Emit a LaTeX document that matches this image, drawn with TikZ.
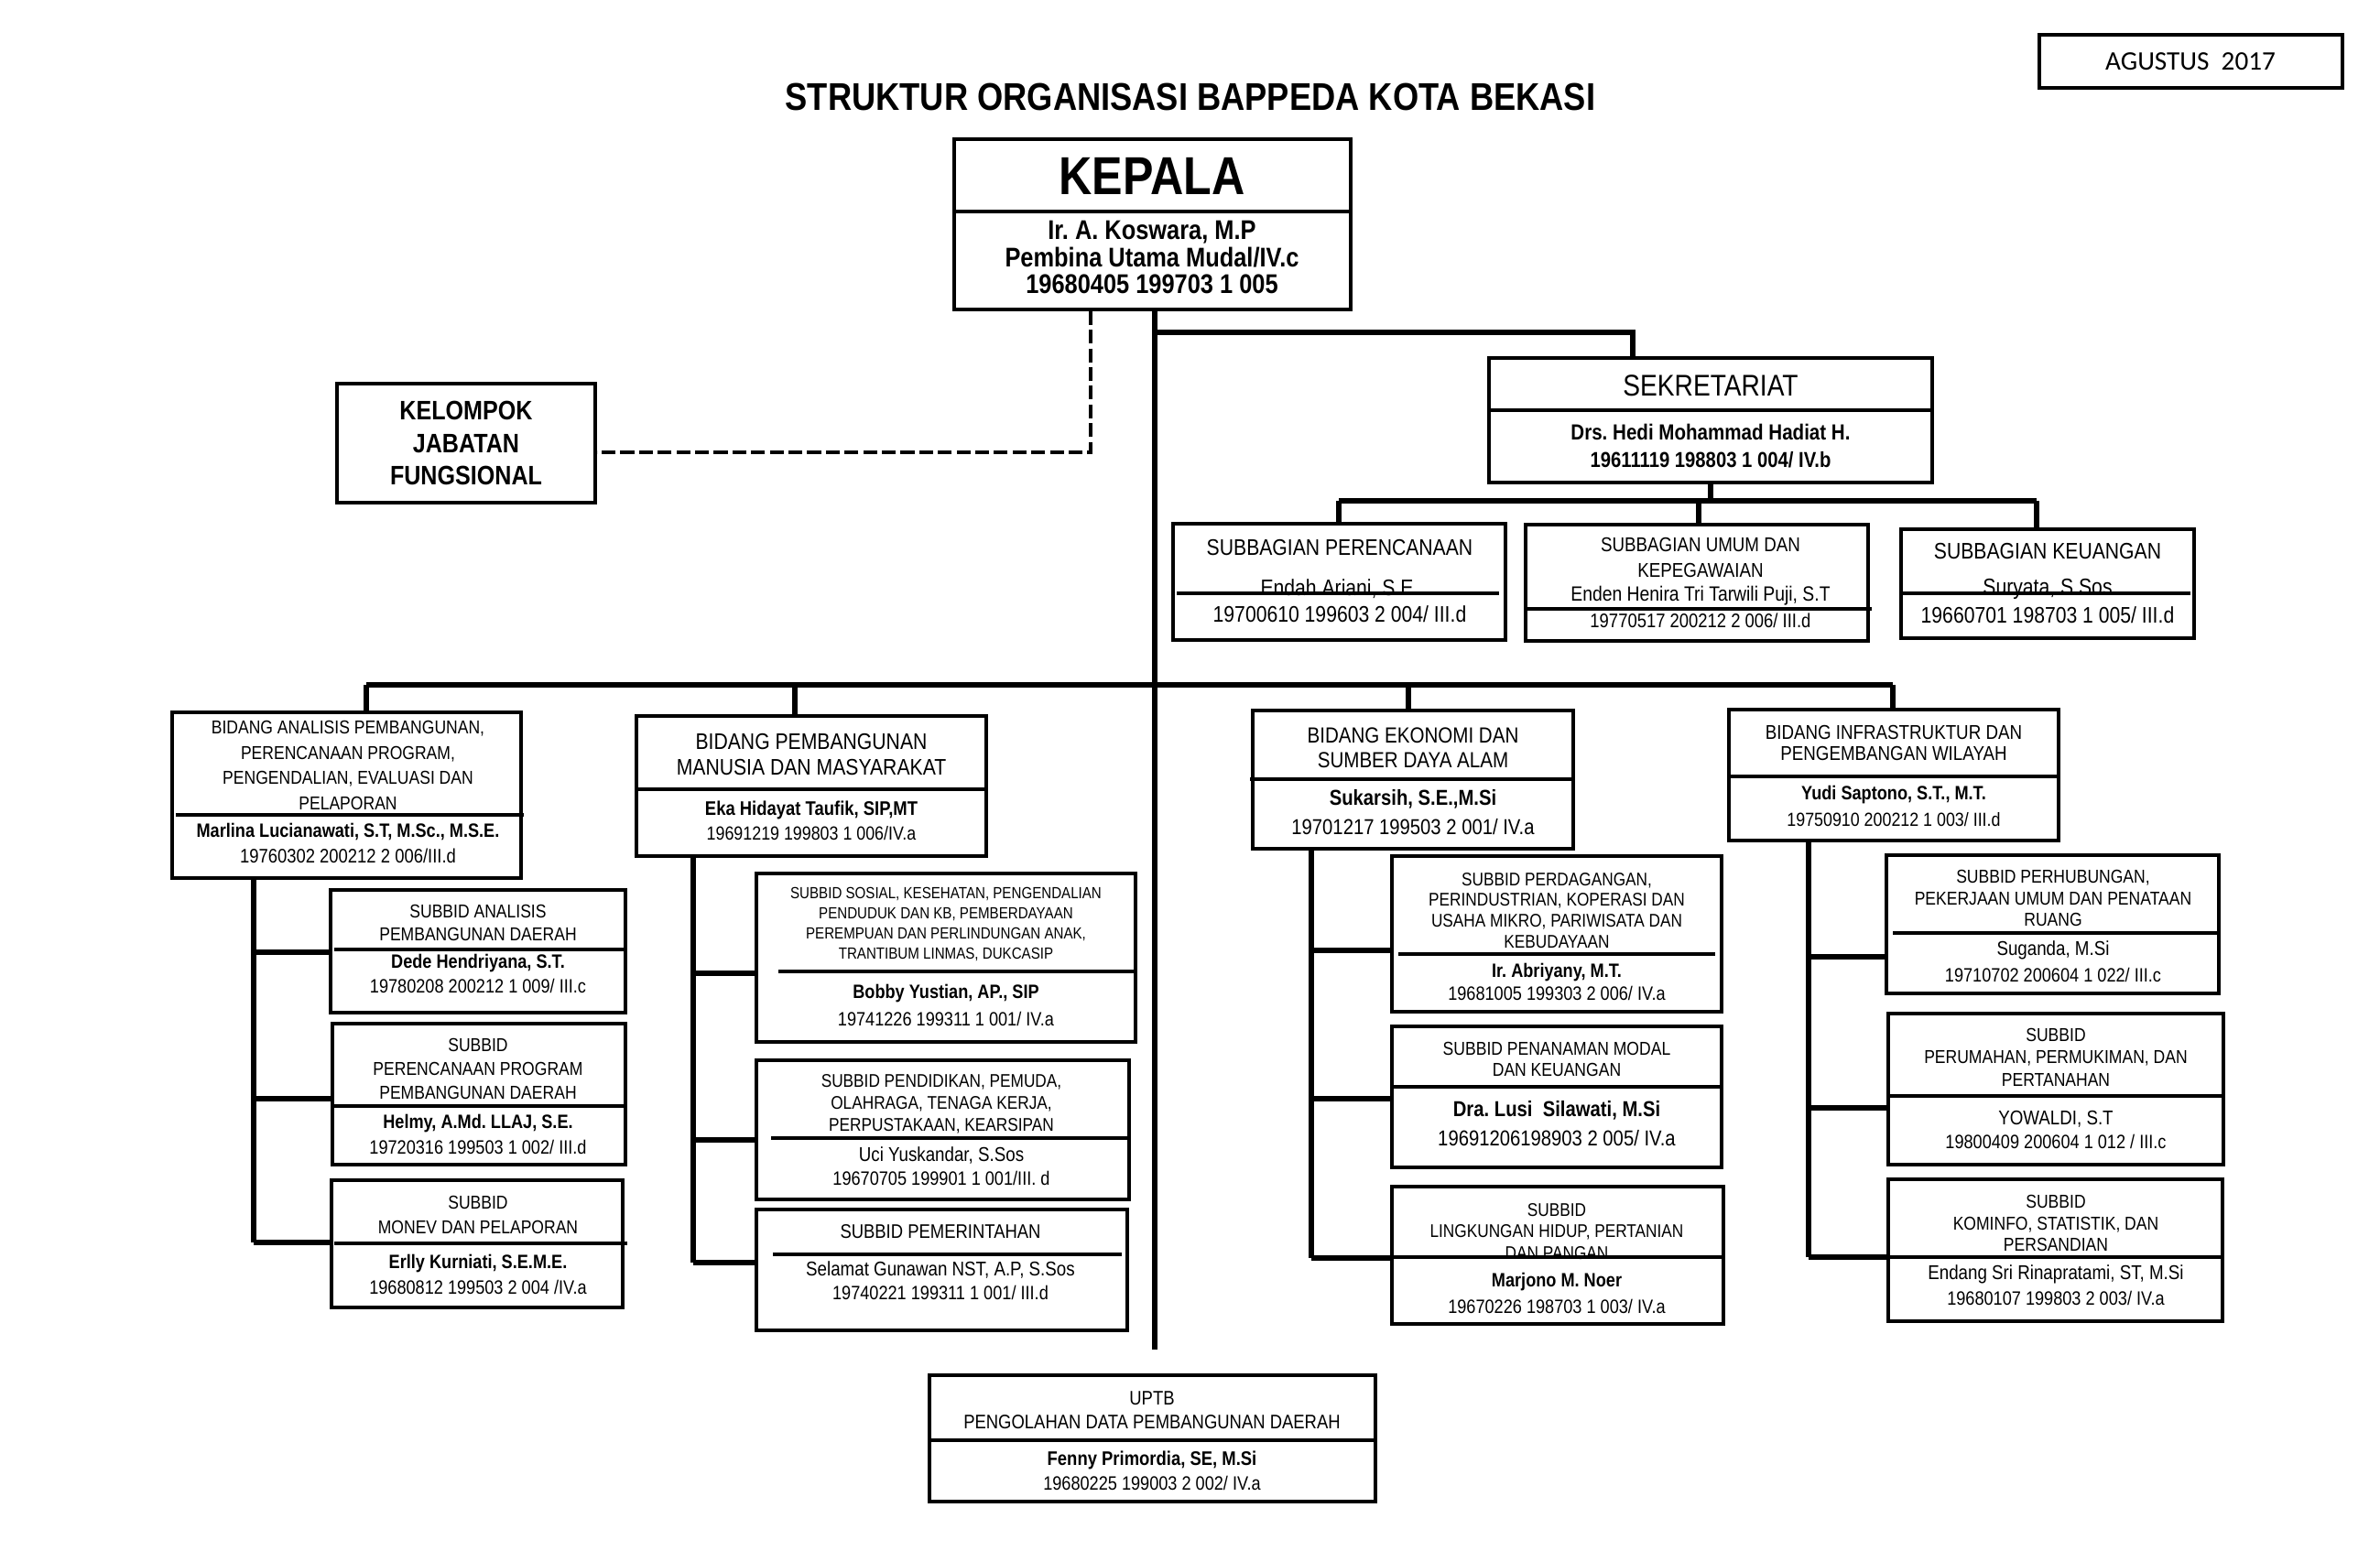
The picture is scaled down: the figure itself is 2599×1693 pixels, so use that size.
\documentclass[tikz,border=0pt]{standalone}
\usepackage{fontspec}
\setmainfont{Liberation Sans}[FakeStretch=0.86]
\newfontfamily\calfont{Carlito}
\usetikzlibrary{fit}
\newcommand\fsz[2]{\fontsize{#1}{#2}\selectfont}
\begin{document}
\begin{tikzpicture}[x=0.01cm,y=-0.01cm,
  box/.style={draw,line width=1pt,inner sep=0pt},
  conn/.style={line width=1.5pt},
  dashline/.style={line width=1.2pt,dash pattern=on 4.3pt off 1.5pt},
  div/.style={line width=0.9pt},
  txt/.style={align=center,inner sep=0pt}]
\frenchspacing
\fill[white] (0,0) rectangle (2599,1693);
\useasboundingbox (0,0) rectangle (2599,1693);

% date and title
\node[box,fit={(2227,38)(2558,96)}] (agbox) {};
\node[txt,font=\calfont\fsz{8.3}{10}] (agtxt) at (2392,67) {AGUSTUS\ \ 2017};
\node[txt,font=\fsz{12}{14}\bfseries] (title) at (1300,106) {STRUKTUR ORGANISASI BAPPEDA KOTA BEKASI};

% KEPALA
\node[box,fit={(1042,152)(1475,338)}] (kepala) {};
\draw[div] (1042,231) -- (1475,231);
\node[txt,font=\fsz{16.6}{20}\bfseries] (kepalaH) at (1258,192) {KEPALA};
\node[txt,font=\fsz{8.4}{8.5}\bfseries] (kepalaN) at (1258,281) {Ir. A. Koswara, M.P\\Pembina Utama Mudal/IV.c\\19680405 199703 1 005};

% KELOMPOK
\node[box,fit={(368,419)(650,549)}] (kelompok) {};
\node[txt,font=\fsz{8.3}{10.1}\bfseries] (kelompokT) at (509,484) {KELOMPOK\\JABATAN\\FUNGSIONAL};
\coordinate (dk) at (1191,494);
\draw[dashline] (kepala.south -| dk) -- (dk) -- (dk -| kelompok.east);

% trunk
\coordinate (trEnd) at (1261,1474);
\draw[conn] (kepala.south -| trEnd) -- (trEnd);

% SEKRETARIAT
\node[box,fit={(1626,391)(2110,527)}] (sek) {};
\draw[div] (1626,448) -- (2110,448);
\node[txt,font=\fsz{9.3}{11}] (sekH) at (1868,421) {SEKRETARIAT};
\node[txt,font=\fsz{6.8}{8}\bfseries] (sekN) at (1868,472) {Drs. Hedi Mohammad Hadiat H.};
\node[txt,font=\fsz{6.7}{8}\bfseries] (sekP) at (1868,502) {19611119 198803 1 004/ IV.b};
\coordinate (s1) at (1261,363);
\coordinate (s2) at (1783,363);
\draw[conn] (s1) -- (s2) -- (s2 |- sek.north);

% subbagian
\node[box,fit={(1281,572)(1644,699)}] (sgA) {};
\draw[div] (1285,648) -- (1637,648);
\node[txt,font=\fsz{7}{8}] (sgAH) at (1463,598) {SUBBAGIAN PERENCANAAN};
\node[txt,font=\fsz{7}{8}] (sgAN) at (1463,643) {Endah Ariani, S.E.};
\node[txt,font=\fsz{7}{8}] (sgAP) at (1463,671) {19700610 199603 2 004/ III.d};

\node[box,fit={(1666,573)(2040,700)}] (sgB) {};
\draw[div] (1666,665) -- (2044,665);
\node[txt,font=\fsz{6.2}{8}] (sgBH) at (1857,609) {SUBBAGIAN UMUM DAN\\KEPEGAWAIAN};
\node[txt,font=\fsz{6.4}{8}] (sgBN) at (1857,651) {Enden Henira Tri Tarwili Puji, S.T};
\node[txt,font=\fsz{6.1}{8}] (sgBP) at (1857,678) {19770517 200212 2 006/ III.d};

\node[box,fit={(2076,578)(2396,697)}] (sgC) {};
\draw[div] (2076,648) -- (2392,648);
\node[txt,font=\fsz{7}{8}] (sgCH) at (2236,602) {SUBBAGIAN KEUANGAN};
\node[txt,font=\fsz{7}{8}] (sgCN) at (2236,643) {Suryata, S.Sos};
\node[txt,font=\fsz{7}{8}] (sgCP) at (2236,672) {19660701 198703 1 005/ III.d};

\coordinate (sb) at (1868,547);
\coordinate (bA) at (1462,547);
\coordinate (bB) at (1855,547);
\coordinate (bC) at (2224,547);
\draw[conn] (sek.south -| sb) -- (sb);
\draw[conn] (bA) -- (bC);
\draw[conn] (bA) -- (bA |- sgA.north);
\draw[conn] (bB) -- (bB |- sgB.north);
\draw[conn] (bC) -- (bC |- sgC.north);

% main bus
\coordinate (m1) at (400,748);
\coordinate (m2) at (868,748);
\coordinate (m3) at (1538,748);
\coordinate (m4) at (2067,748);
\draw[conn] (m1) -- (m4);

% BIDANG boxes
\node[box,fit={(188,778)(569,959)}] (bdA) {};
\draw[div] (192,890) -- (572,890);
\node[txt,font=\fsz{5.8}{7.8}] (bdAH) at (380,836) {BIDANG ANALISIS PEMBANGUNAN,\\PERENCANAAN PROGRAM,\\PENGENDALIAN, EVALUASI DAN\\PELAPORAN};
\node[txt,font=\fsz{6.0}{7.7}\bfseries] (bdAN) at (380,908) {Marlina Lucianawati, S.T, M.Sc., M.S.E.};
\node[txt,font=\fsz{6.1}{7.7}] (bdAP) at (380,935) {19760302 200212 2 006/III.d};

\node[box,fit={(695,782)(1077,935)}] (bdB) {};
\draw[div] (695,862) -- (1079,862);
\node[txt,font=\fsz{7.0}{8.0}] (bdBH) at (886,824) {BIDANG PEMBANGUNAN\\MANUSIA DAN MASYARAKAT};
\node[txt,font=\fsz{6.1}{7.5}\bfseries] (bdBN) at (886,885) {Eka Hidayat Taufik, SIP,MT};
\node[txt,font=\fsz{5.9}{7.5}] (bdBP) at (886,910) {19691219 199803 1 006/IV.a};

\node[box,fit={(1368,776)(1718,927)}] (bdC) {};
\draw[div] (1365,851) -- (1720,851);
\node[txt,font=\fsz{6.8}{7.7}] (bdCH) at (1543,816.5) {BIDANG EKONOMI DAN\\SUMBER DAYA ALAM};
\node[txt,font=\fsz{6.7}{8}\bfseries] (bdCN) at (1543,873) {Sukarsih, S.E.,M.Si};
\node[txt,font=\fsz{6.7}{8}] (bdCP) at (1543,903) {19701217 199503 2 001/ IV.a};

\node[box,fit={(1888,775)(2248,918)}] (bdD) {};
\draw[div] (1888,848) -- (2248,848);
\node[txt,font=\fsz{6.2}{6.6}] (bdDH) at (2068,811.5) {BIDANG INFRASTRUKTUR DAN\\PENGEMBANGAN WILAYAH};
\node[txt,font=\fsz{6.0}{7.5}\bfseries] (bdDN) at (2068,868) {Yudi Saptono, S.T., M.T.};
\node[txt,font=\fsz{5.9}{7.5}] (bdDP) at (2068,895) {19750910 200212 1 003/ III.d};

\draw[conn] (m1) -- (m1 |- bdA.north);
\draw[conn] (m2) -- (m2 |- bdB.north);
\draw[conn] (m3) -- (m3 |- bdC.north);
\draw[conn] (m4) -- (m4 |- bdD.north);

% SUBBID column A
\node[box,fit={(361,972)(683,1106)}] (sa1) {};
\draw[div] (365,1037) -- (685,1037);
\node[txt,font=\fsz{5.8}{7.1}] (sa1H) at (522,1007.5) {SUBBID ANALISIS\\PEMBANGUNAN DAERAH};
\node[txt,font=\fsz{6}{7}\bfseries] (sa1N) at (522,1052) {Dede Hendriyana, S.T.};
\node[txt,font=\fsz{6}{7}] (sa1P) at (522,1077) {19780208 200212 1 009/ III.c};

\node[box,fit={(363,1118)(683,1272)}] (sa2) {};
\draw[div] (365,1208) -- (685,1208);
\node[txt,font=\fsz{5.8}{7.3}] (sa2H) at (522,1167.5) {SUBBID\\PERENCANAAN PROGRAM\\PEMBANGUNAN DAERAH};
\node[txt,font=\fsz{6}{7}\bfseries] (sa2N) at (522,1227) {Helmy, A.Md. LLAJ, S.E.};
\node[txt,font=\fsz{6}{7}] (sa2P) at (522,1253) {19720316 199503 1 002/ III.d};

\node[box,fit={(362,1289)(680,1428)}] (sa3) {};
\draw[div] (365,1358) -- (685,1358);
\node[txt,font=\fsz{5.8}{7.7}] (sa3H) at (522,1326.5) {SUBBID\\MONEV DAN PELAPORAN};
\node[txt,font=\fsz{6}{7}\bfseries] (sa3N) at (522,1380) {Erlly Kurniati, S.E.M.E.};
\node[txt,font=\fsz{6}{7}] (sa3P) at (522,1406) {19680812 199503 2 004 /IV.a};

\coordinate (ja1) at (277,1040);
\coordinate (ja2) at (277,1200);
\coordinate (ja3) at (277,1357);
\draw[conn] (bdA.south -| ja3) -- (ja3);
\draw[conn] (ja1) -- (ja1 -| sa1.west);
\draw[conn] (ja2) -- (ja2 -| sa2.west);
\draw[conn] (ja3) -- (ja3 -| sa3.west);

% SUBBID column B
\node[box,fit={(826,954)(1240,1138)}] (sb1) {};
\draw[div] (850,1061) -- (1242,1061);
\node[txt,font=\fsz{5.0}{6.3}] (sb1H) at (1033,1009.5) {SUBBID SOSIAL, KESEHATAN, PENGENDALIAN\\PENDUDUK DAN KB, PEMBERDAYAAN\\PEREMPUAN DAN PERLINDUNGAN ANAK,\\TRANTIBUM LINMAS, DUKCASIP};
\node[txt,font=\fsz{6}{7}\bfseries] (sb1N) at (1033,1085) {Bobby Yustian, AP., SIP};
\node[txt,font=\fsz{6}{7}] (sb1P) at (1033,1113) {19741226 199311 1 001/ IV.a};

\node[box,fit={(826,1158)(1233,1310)}] (sb2) {};
\draw[div] (842,1243) -- (1235,1243);
\node[txt,font=\fsz{5.7}{6.8}] (sb2H) at (1028,1206) {SUBBID PENDIDIKAN, PEMUDA,\\OLAHRAGA, TENAGA KERJA,\\PERPUSTAKAAN, KEARSIPAN};
\node[txt,font=\fsz{6.2}{7}] (sb2N) at (1028,1262) {Uci Yuskandar, S.Sos};
\node[txt,font=\fsz{6}{7}] (sb2P) at (1028,1287) {19670705 199901 1 001/III. d};

\node[box,fit={(826,1321)(1231,1453)}] (sb3) {};
\draw[div] (844,1370) -- (1225,1370);
\node[txt,font=\fsz{6.1}{7}] (sb3H) at (1027,1345) {SUBBID PEMERINTAHAN};
\node[txt,font=\fsz{6.2}{7}] (sb3N) at (1027,1387) {Selamat Gunawan NST, A.P, S.Sos};
\node[txt,font=\fsz{6}{7}] (sb3P) at (1027,1412) {19740221 199311 1 001/ III.d};

\coordinate (jb1) at (757,1063);
\coordinate (jb2) at (757,1245);
\coordinate (jb3) at (757,1379);
\draw[conn] (bdB.south -| jb3) -- (jb3);
\draw[conn] (jb1) -- (jb1 -| sb1.west);
\draw[conn] (jb2) -- (jb2 -| sb2.west);
\draw[conn] (jb3) -- (jb3 -| sb3.west);

% SUBBID column C
\node[box,fit={(1520,935)(1880,1105)}] (sc1) {};
\draw[div] (1527,1042) -- (1873,1042);
\node[txt,font=\fsz{5.7}{6.5}] (sc1H) at (1700,994.5) {SUBBID PERDAGANGAN,\\PERINDUSTRIAN, KOPERASI DAN\\USAHA MIKRO, PARIWISATA DAN\\KEBUDAYAAN};
\node[txt,font=\fsz{6}{7}\bfseries] (sc1N) at (1700,1062) {Ir. Abriyany, M.T.};
\node[txt,font=\fsz{6}{7}] (sc1P) at (1700,1085) {19681005 199303 2 006/ IV.a};

\node[box,fit={(1520,1121)(1880,1275)}] (sc2) {};
\draw[div] (1520,1187) -- (1880,1187);
\node[txt,font=\fsz{5.8}{6.3}] (sc2H) at (1700,1157) {SUBBID PENANAMAN MODAL\\DAN KEUANGAN};
\node[txt,font=\fsz{6.7}{8}\bfseries] (sc2N) at (1700,1213) {Dra. Lusi\ \ Silawati, M.Si};
\node[txt,font=\fsz{6.7}{8}] (sc2P) at (1700,1243) {19691206198903 2 005/ IV.a};

\node[box,fit={(1520,1296)(1882,1446)}] (sc3) {};
\draw[div] (1520,1373) -- (1880,1373);
\node[txt,font=\fsz{5.7}{6.7}] (sc3H) at (1700,1345) {SUBBID\\LINGKUNGAN HIDUP, PERTANIAN\\DAN PANGAN};
\node[txt,font=\fsz{6}{7}\bfseries] (sc3N) at (1700,1400) {Marjono M. Noer};
\node[txt,font=\fsz{6}{7}] (sc3P) at (1700,1427) {19670226 198703 1 003/ IV.a};

\coordinate (jc1) at (1432,1038);
\coordinate (jc2) at (1432,1200);
\coordinate (jc3) at (1432,1374);
\draw[conn] (bdC.south -| jc3) -- (jc3);
\draw[conn] (jc1) -- (jc1 -| sc1.west);
\draw[conn] (jc2) -- (jc2 -| sc2.west);
\draw[conn] (jc3) -- (jc3 -| sc3.west);

% SUBBID column D
\node[box,fit={(2060,934)(2423,1085)}] (sd1) {};
\draw[div] (2067,1019) -- (2423,1019);
\node[txt,font=\fsz{5.8}{6.8}] (sd1H) at (2242,981) {SUBBID PERHUBUNGAN,\\PEKERJAAN UMUM DAN PENATAAN\\RUANG};
\node[txt,font=\fsz{6.2}{7}] (sd1N) at (2242,1038) {Suganda, M.Si};
\node[txt,font=\fsz{6}{7}] (sd1P) at (2242,1065) {19710702 200604 1 022/ III.c};

\node[box,fit={(2062,1107)(2428,1272)}] (sd2) {};
\draw[div] (2062,1197) -- (2428,1197);
\node[txt,font=\fsz{5.8}{7}] (sd2H) at (2245,1154.5) {SUBBID\\PERUMAHAN, PERMUKIMAN, DAN\\PERTANAHAN};
\node[txt,font=\fsz{6.2}{7}] (sd2N) at (2245,1222) {YOWALDI, S.T};
\node[txt,font=\fsz{6}{7}] (sd2P) at (2245,1247) {19800409 200604 1 012 / III.c};

\node[box,fit={(2062,1288)(2427,1443)}] (sd3) {};
\draw[div] (2062,1373) -- (2427,1373);
\node[txt,font=\fsz{5.8}{6.8}] (sd3H) at (2245,1336) {SUBBID\\KOMINFO, STATISTIK, DAN\\PERSANDIAN};
\node[txt,font=\fsz{6.2}{7}] (sd3N) at (2245,1392) {Endang Sri Rinapratami, ST, M.Si};
\node[txt,font=\fsz{6}{7}] (sd3P) at (2245,1418) {19680107 199803 2 003/ IV.a};

\coordinate (jd1) at (1975,1045);
\coordinate (jd2) at (1975,1210);
\coordinate (jd3) at (1975,1373);
\draw[conn] (bdD.south -| jd3) -- (jd3);
\draw[conn] (jd1) -- (jd1 -| sd1.west);
\draw[conn] (jd2) -- (jd2 -| sd2.west);
\draw[conn] (jd3) -- (jd3 -| sd3.west);

% UPTB
\node[box,fit={(1015,1502)(1502,1640)}] (uptb) {};
\draw[div] (1015,1573) -- (1502,1573);
\node[txt,font=\fsz{6.1}{7.4}] (uptbH) at (1258,1540) {UPTB\\PENGOLAHAN DATA PEMBANGUNAN DAERAH};
\node[txt,font=\fsz{6.1}{7}\bfseries] (uptbN) at (1258,1595) {Fenny Primordia, SE, M.Si};
\node[txt,font=\fsz{6}{7}] (uptbP) at (1258,1620) {19680225 199003 2 002/ IV.a};
\end{tikzpicture}
\end{document}
